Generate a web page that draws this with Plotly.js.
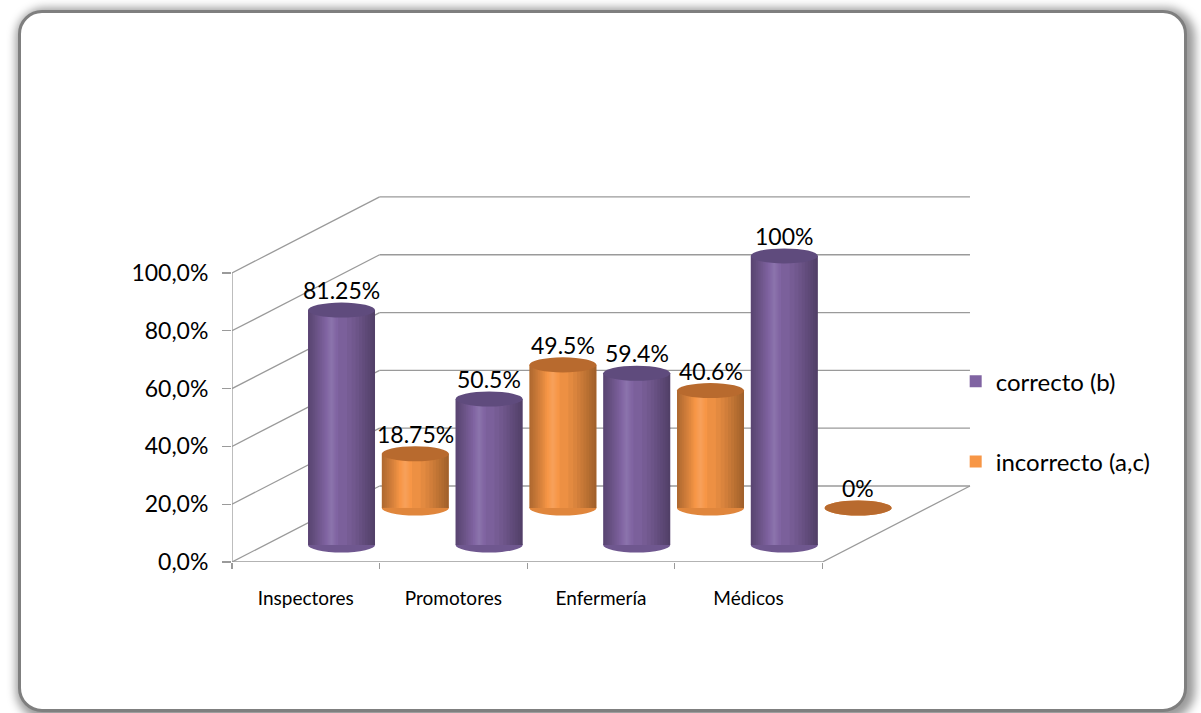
<!DOCTYPE html>
<html>
<head>
<meta charset="utf-8">
<script src="https://cdn.plot.ly/plotly-3.0.1.min.js"></script>
<style>
  html, body { margin: 0; padding: 0; background: #ffffff; }
  #wrap { position: relative; width: 1201px; height: 713px; overflow: hidden; background: #ffffff; }
  #frame { position: absolute; left: 18px; top: 10px; width: 1163px; height: 696px;
           border: 3px solid #7f7f7f; border-radius: 24px; background: #ffffff;
           box-shadow: 3px 3px 10px 5px rgba(0,0,0,0.40); }
  #chart { position: absolute; left: 0; top: 0; width: 1201px; height: 713px; }
</style>
</head>
<body>
<div id="wrap">
  <div id="frame"></div>
  <div id="chart"></div>
</div>
<script>
// ---- data ----
const categories = ['Inspectores', 'Promotores', 'Enfermería', 'Médicos'];
const correcto = [81.25, 50.5, 59.4, 100];
const incorrecto = [18.75, 49.5, 40.6, 0];
const correctoLabels = ['81.25%', '50.5%', '59.4%', '100%'];
const incorrectoLabels = ['18.75%', '49.5%', '40.6%', '0%'];
const yTickVals = [0, 20, 40, 60, 80, 100];
const yTickText = ['0,0%', '20,0%', '40,0%', '60,0%', '80,0%', '100,0%'];
const seriesNames = ['correcto (b)', 'incorrecto (a,c)'];

// ---- style ----
const FONT = 'Lato, "Open Sans", sans-serif';
const purple = '#8064a2', purpleTop = '#5f4b7d';
const orange = '#f79646', orangeTop = '#b86a2e';
const gridCol = '#9a9a9a';
const DEPTH_Y = 26.3;   // back wall offset in y units
const DEPTH_X = 1.0;    // back wall offset in category units
const BW = 0.454;       // bar width (category units)
const OFF_P = 0.015, OFF_O = 0.515;
const CAP = 2.6;        // cap ellipse half height (y units)

const traces = [
  { type: 'bar', name: seriesNames[0], x: categories, y: correcto,
    xaxis: 'x', yaxis: 'y2', offset: OFF_P, width: BW,
    marker: { color: purple, line: { width: 0 } }, legendgroup: 'a', hoverinfo: 'skip' },
  { type: 'bar', name: seriesNames[1], x: categories, y: incorrecto,
    xaxis: 'x', yaxis: 'y3', offset: OFF_O, width: BW,
    marker: { color: orange, line: { width: 0 } }, legendgroup: 'b', hoverinfo: 'skip' }
];

// cylinder shading: nested translucent overlays of the same bars (smooth gradient)
const M = 10;
function shade(vals, off, yax, grp) {
  const add = (o, w, color) => traces.push({ type: 'bar', x: categories, y: vals, xaxis: 'x', yaxis: yax,
      offset: o, width: w, showlegend: false, legendgroup: grp, hoverinfo: 'skip',
      marker: { color, line: { width: 0 } } });
  for (let j = 1; j <= M; j++) {
    // left dark edge: from left edge, up to 26% of width
    const wl = 0.26 * BW * j / M;
    add(off, wl, `rgba(0,0,0,${0.30 / M})`);
    // right dark edge: from right edge, up to 55% of width, growing darker
    const wr = 0.55 * BW * (1 - Math.pow((j - 1) / M, 0.625));
    add(off + BW - wr, wr, `rgba(0,0,0,${0.40 / M})`);
  }
  // soft highlight around 35% of width
  for (let j = 1; j <= 5; j++) {
    const hw = 0.14 * BW * j / 5;
    add(off + 0.35 * BW - hw / 2, hw, 'rgba(255,255,255,0.025)');
  }
}
shade(correcto, OFF_P, 'y2', 'a');
shade(incorrecto, OFF_O, 'y3', 'b');

const shapes = [];
function seg(x0, y0, x1, y1) {
  shapes.push({ type: 'line', xref: 'x', yref: 'y', x0, y0, x1, y1, layer: 'below',
                line: { color: gridCol, width: 1.3 } });
}
yTickVals.forEach(t => {
  seg(-0.5, t, -0.5 + DEPTH_X, t + DEPTH_Y);
  seg(-0.5 + DEPTH_X, t + DEPTH_Y, 3.5 + DEPTH_X, t + DEPTH_Y);
});
seg(-0.5, 0, -0.5, 100);
seg(-0.5, 0, 3.5, 0);
seg(3.5, 0, 3.5 + DEPTH_X, DEPTH_Y);

function caps(vals, off, yref, body, top) {
  vals.forEach((v, i) => {
    const x0 = i + off, x1 = x0 + BW;
    shapes.push({ type: 'circle', xref: 'x', yref, x0, x1, y0: -CAP, y1: CAP,
                  fillcolor: body, line: { width: 0 }, layer: 'below' });
    shapes.push({ type: 'circle', xref: 'x', yref, x0, x1, y0: v - CAP, y1: v + CAP,
                  fillcolor: top, line: { width: 0 }, layer: 'above' });
  });
}
caps(correcto, OFF_P, 'y2', '#6f578f', purpleTop);
caps(incorrecto, OFF_O, 'y3', '#e0863c', orangeTop);

const annotations = [];
function labels(vals, txt, off, yref) {
  vals.forEach((v, i) => {
    annotations.push({ xref: 'x', yref, x: i + off + BW / 2, y: v, text: txt[i],
                       showarrow: false, yshift: 20, yanchor: 'middle',
                       font: { family: FONT, size: 23, color: '#000' } });
  });
}
labels(correcto, correctoLabels, OFF_P, 'y2');
labels(incorrecto, incorrectoLabels, OFF_O, 'y3');

const yMax = 128.7;
const layout = {
  width: 1201, height: 713, autosize: false,
  margin: { l: 232, r: 226, t: 190, b: 151, pad: 0 },
  paper_bgcolor: 'rgba(0,0,0,0)', plot_bgcolor: 'rgba(0,0,0,0)',
  font: { family: FONT, color: '#000' },
  barmode: 'overlay',
  showlegend: true,
  legend: { x: 0.974, xanchor: 'left', y: 0.545, yanchor: 'top',
            font: { family: FONT, size: 24, color: '#000' },
            tracegroupgap: 46, bgcolor: 'rgba(0,0,0,0)' },
  xaxis: { type: 'category', categoryarray: categories, range: [-0.5, 4.534],
           tickson: 'boundaries', ticks: 'outside', ticklen: 6, tickcolor: gridCol, tickwidth: 1.3,
           showgrid: false, zeroline: false, showline: false,
           tickfont: { family: FONT, size: 19, color: '#000' }, ticklabelstandoff: 23 },
  yaxis: { range: [0, yMax], tickmode: 'array', tickvals: yTickVals, ticktext: yTickText,
           ticks: 'outside', ticklen: 9, tickcolor: gridCol, tickwidth: 1.3,
           showgrid: false, zeroline: false, showline: false,
           tickfont: { family: FONT, size: 23, color: '#000' }, ticklabelstandoff: 9 },
  yaxis2: { overlaying: 'y', range: [-5.9, yMax - 5.9], visible: false },
  yaxis3: { overlaying: 'y', range: [-18.7, yMax - 18.7], visible: false },
  shapes, annotations
};

Plotly.newPlot('chart', traces, layout, { displayModeBar: false, staticPlot: true });
</script>
</body>
</html>
